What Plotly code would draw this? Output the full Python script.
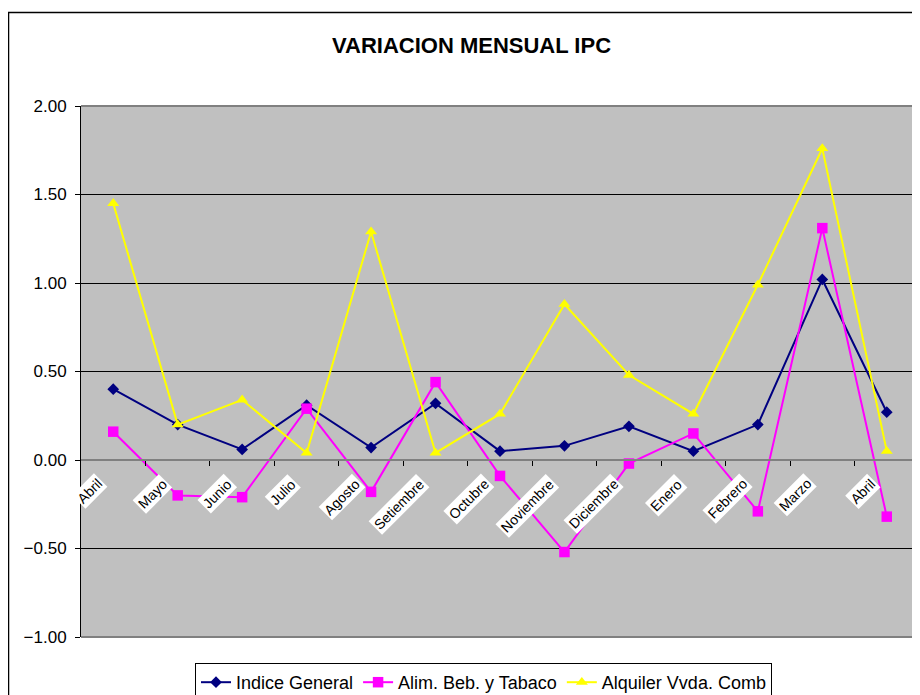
import plotly.graph_objects as go

months = ["Abril", "Mayo", "Junio", "Julio", "Agosto", "Setiembre", "Octubre",
          "Noviembre", "Diciembre", "Enero", "Febrero", "Marzo", "Abril"]
indice_general = [0.40, 0.20, 0.06, 0.31, 0.07, 0.32, 0.05, 0.08, 0.19, 0.05, 0.20, 1.02, 0.27]
alim_beb_tabaco = [0.16, -0.20, -0.21, 0.29, -0.18, 0.44, -0.09, -0.52, -0.02, 0.15, -0.29, 1.31, -0.32]
alquiler_vvda = [1.45, 0.20, 0.34, 0.04, 1.29, 0.04, 0.26, 0.88, 0.48, 0.26, 0.99, 1.76, 0.05]
y_ticks = [-1.0, -0.5, 0.0, 0.5, 1.0, 1.5, 2.0]

FONT = "Liberation Sans, Arial, sans-serif"
idx = list(range(len(months)))

fig = go.Figure()
fig.add_trace(go.Scatter(x=idx, y=indice_general, name="Indice General", mode="lines+markers",
                         line=dict(color="#000080", width=2),
                         marker=dict(symbol="diamond", size=9, color="#000080")))
fig.add_trace(go.Scatter(x=idx, y=alim_beb_tabaco, name="Alim. Beb. y Tabaco", mode="lines+markers",
                         line=dict(color="#FF00FF", width=2),
                         marker=dict(symbol="square", size=10.5, color="#FF00FF")))
fig.add_trace(go.Scatter(x=idx, y=alquiler_vvda, name="Alquiler Vvda. Comb", mode="lines+markers",
                         line=dict(color="#FFFF00", width=2),
                         marker=dict(symbol="triangle-up", size=10.5, color="#FFFF00")))
# helper trace so the zero-crossing category axis is drawn
fig.add_trace(go.Scatter(x=idx, y=[None] * len(idx), xaxis="x2", showlegend=False,
                         hoverinfo="skip", mode="lines"))

ymin, ymax = y_ticks[0], y_ticks[-1]
zero_frac = (0 - ymin) / (ymax - ymin)

annotations = []
for i, m in enumerate(months):
    annotations.append(dict(x=i, y=0, xref="x", yref="y", text=m, showarrow=False,
                            textangle=-45, xanchor="right", yanchor="top",
                            xshift=-5, yshift=-13, bgcolor="white", borderpad=1,
                            font=dict(family=FONT, size=14, color="black")))

shapes = [
    # plot-area border (top, right, bottom)
    dict(type="line", xref="paper", yref="paper", x0=0, x1=1, y0=1, y1=1,
         line=dict(color="#808080", width=2)),
    dict(type="line", xref="paper", yref="paper", x0=1, x1=1, y0=0, y1=1,
         line=dict(color="#808080", width=2)),
    dict(type="line", xref="paper", yref="paper", x0=0, x1=1, y0=0, y1=0,
         line=dict(color="#808080", width=2)),
    # chart-area border
    dict(type="rect", xref="paper", yref="paper", x0=-0.0865, x1=1.2, y0=-0.3, y1=1.176,
         line=dict(color="black", width=1.5), layer="below"),
]

fig.update_layout(
    width=920, height=695,
    margin=dict(l=73, r=9, t=98, b=66, autoexpand=False),
    paper_bgcolor="white",
    plot_bgcolor="#C0C0C0",
    font=dict(family=FONT, color="black"),
    title=dict(text="<b>VARIACION MENSUAL IPC</b>", x=0.466, xref="paper", xanchor="center",
               y=1 - 37 / 695, yref="container", yanchor="middle",
               font=dict(family=FONT, size=22, color="black")),
    xaxis=dict(range=[-0.5, len(months) - 0.5], showticklabels=False, showgrid=False,
               zeroline=False, showline=False, ticks=""),
    xaxis2=dict(overlaying="x", anchor="free", position=zero_frac,
                range=[-0.5, len(months) - 0.5], showticklabels=False, showgrid=False,
                zeroline=False, showline=True, linecolor="#808080", linewidth=2,
                ticks="outside", ticklen=5, tickcolor="black", tickwidth=1,
                tickvals=[i + 0.5 for i in idx[:-1]]),
    yaxis=dict(range=[ymin, ymax], tickvals=y_ticks, tickformat=".2f",
               showgrid=True, gridcolor="black", gridwidth=1, zeroline=False,
               showline=True, linecolor="black", linewidth=1,
               ticks="outside", ticklen=5, tickcolor="black",
               ticklabelstandoff=5,
               tickfont=dict(family=FONT, size=17, color="black")),
    legend=dict(orientation="h", x=(187 - 73) / 838, xanchor="left",
                y=-(655 - 629) / 531, yanchor="top",
                bgcolor="white", bordercolor="black", borderwidth=1,
                font=dict(family=FONT, size=18, color="black"),
                tracegroupgap=0, itemwidth=30),
    annotations=annotations,
    shapes=shapes,
    showlegend=True,
)

fig.write_html("out.html")
